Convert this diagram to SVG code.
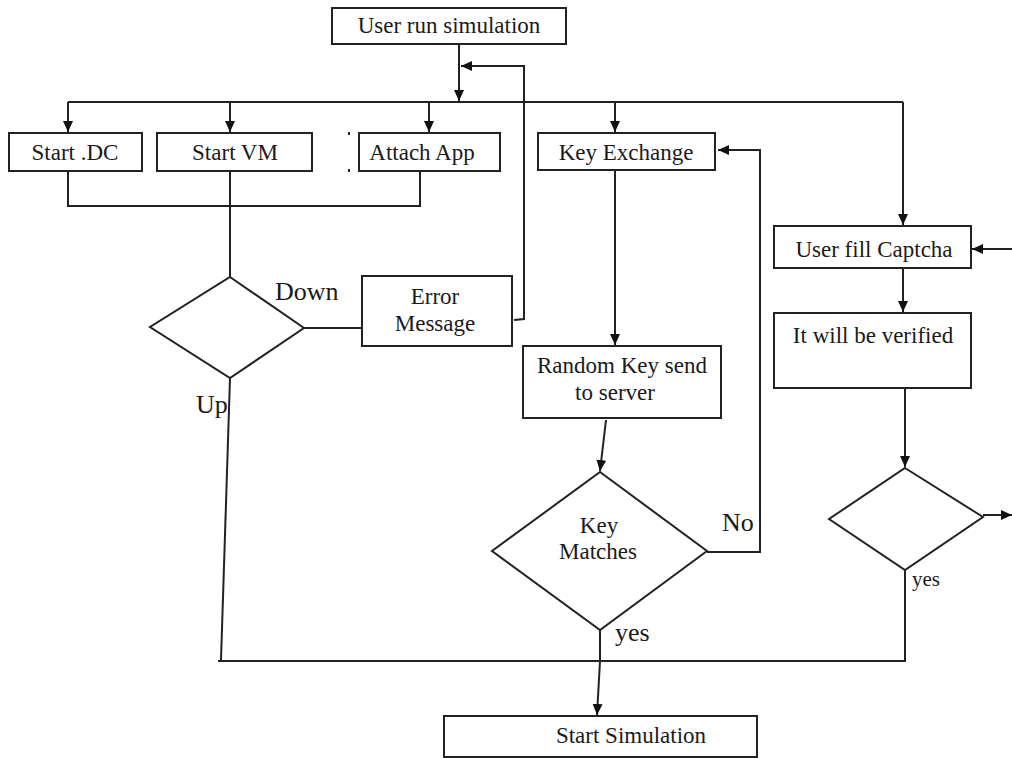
<svg xmlns="http://www.w3.org/2000/svg" width="1012" height="758" viewBox="0 0 1012 758">
<defs>
<marker id="ah" markerWidth="12" markerHeight="12" refX="11" refY="6" orient="auto" markerUnits="userSpaceOnUse">
<path d="M0,1 L11,6 L0,11 Z" fill="#111"/>
</marker>
<style>
.box{fill:#fff;stroke:#222;stroke-width:2}
.ln{fill:none;stroke:#222;stroke-width:2}
.arr{fill:none;stroke:#222;stroke-width:2;marker-end:url(#ah)}
.t{font-family:"Liberation Serif","Times New Roman",serif;font-size:23px;fill:#1a1a1a;text-anchor:middle}
.l{font-family:"Liberation Serif","Times New Roman",serif;font-size:26px;fill:#1a1a1a}
</style>
</defs>
<rect width="1012" height="758" fill="#fff"/>
<g id="connectors">
<path class="arr" d="M459,44 L459,101"/>
<path class="arr" d="M514,320 L524,319 L524,66 L461,66"/>
<path class="ln" d="M68,102 L903,102"/>
<path class="arr" d="M68,102 L68,132"/>
<path class="arr" d="M230,102 L230,132"/>
<path class="arr" d="M429,102 L429,132"/>
<path class="arr" d="M615,102 L615,132"/>
<path class="arr" d="M903,102 L903,225"/>
<path class="ln" d="M68,171 L68,206 L420,206 L420,171"/>
<path class="ln" d="M230,171 L230,277"/>
<path class="ln" d="M304,328 L362,328"/>
<path class="ln" d="M230,378 L221,660"/>
<path class="ln" d="M218,661 L906,661"/>
<path class="arr" d="M615,170 L615,345"/>
<path class="arr" d="M606,420 L600,471"/>
<path class="arr" d="M707,552 L760,552 L760,150 L718,150"/>
<path class="ln" d="M600,630 L600,661"/>
<path class="arr" d="M600,661 L597,715"/>
<path class="arr" d="M1012,249 L972,249"/>
<path class="arr" d="M903,268 L903,312"/>
<path class="arr" d="M905,388 L905,467"/>
<path class="arr" d="M983,515 L1012,515"/>
<path class="ln" d="M905,570 L905,661"/>
<line class="ln" x1="349" y1="132" x2="349" y2="135" stroke-width="1.5"/>
<line class="ln" x1="349" y1="169" x2="349" y2="172" stroke-width="1.5"/>
</g>
<g id="user-run">
<rect class="box" x="332" y="8" width="234" height="36"/>
<text class="t" x="449" y="33">User run simulation</text>
</g>
<g id="start-dc">
<rect class="box" x="9" y="133" width="133" height="38"/>
<text class="t" x="75" y="160">Start .DC</text>
</g>
<g id="start-vm">
<rect class="box" x="157" y="133" width="155" height="38"/>
<text class="t" x="235" y="160">Start VM</text>
</g>
<g id="attach-app">
<rect class="box" x="359" y="133" width="141" height="38"/>
<text class="t" x="422" y="160">Attach App</text>
</g>
<g id="key-exchange">
<rect class="box" x="538" y="133" width="177" height="37"/>
<text class="t" x="626" y="160">Key Exchange</text>
</g>
<g id="vm-check">
<polygon class="box" points="230,277 304,328 230,378 150,327"/>
<text class="l" x="275" y="300">Down</text>
<text class="l" x="196" y="413">Up</text>
</g>
<g id="error-message">
<rect class="box" x="362" y="276" width="150" height="70"/>
<text class="t" x="435" y="304">Error</text>
<text class="t" x="435" y="331">Message</text>
</g>
<g id="random-key">
<rect class="box" x="523" y="346" width="198" height="72"/>
<text class="t" x="622" y="373">Random Key send</text>
<text class="t" x="615" y="400">to server</text>
</g>
<g id="key-matches">
<polygon class="box" points="600,472 707,551 600,630 492,551"/>
<text class="t" x="599" y="533">Key</text>
<text class="t" x="598" y="559">Matches</text>
<text class="l" x="722" y="531">No</text>
<text class="l" x="615" y="641">yes</text>
</g>
<g id="captcha">
<rect class="box" x="774" y="226" width="197" height="42"/>
<text class="t" x="874" y="257">User fill Captcha</text>
</g>
<g id="verified">
<rect class="box" x="774" y="313" width="197" height="75"/>
<text class="t" x="873" y="343">It will be verified</text>
</g>
<g id="captcha-check">
<polygon class="box" points="905,468 983,517 905,570 829,519"/>
<text class="l" x="912" y="586" style="font-size:21px">yes</text>
</g>
<g id="start-simulation">
<rect class="box" x="444" y="716" width="313" height="41"/>
<text class="t" x="631" y="743">Start Simulation</text>
</g>
</svg>
